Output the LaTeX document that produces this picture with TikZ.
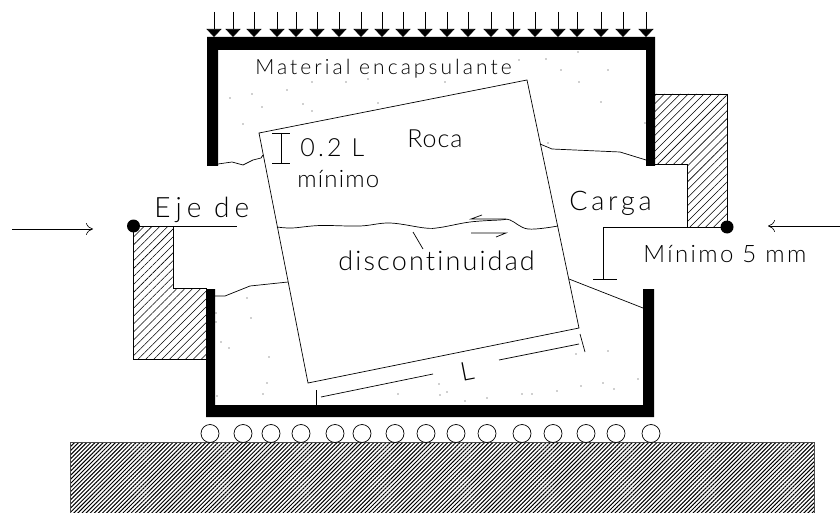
\documentclass[tikz,border=0pt]{standalone}
\usepackage{fontspec}
\setmainfont{Lato Light}[Ligatures=NoCommon]
\usetikzlibrary{arrows.meta,patterns.meta}

\begin{document}
\begin{tikzpicture}
[x=1pt,y=-1pt,line width=0.7pt,
rotulo/.style 2 args={anchor=base west,inner sep=0pt,font=\fontsize{#1}{#1}\selectfont\addfontfeature{LetterSpace=#2}},
rayado/.style={draw=black,pattern={Lines[angle=45,distance=5.6pt,line width=0.55pt]}},
rayadob/.style={draw=black!70,pattern={Lines[angle=45,distance=2.9pt,line width=1pt]}},
bullet/.style={circle,fill=black,inner sep=0pt,minimum size=13pt},
rodillo/.style={circle,draw=black,fill=white,inner sep=0pt,minimum size=18pt},
carga/.style={-{Triangle[width=15pt,length=8pt]},line width=0.6pt},
fuerza/.style={-{To[length=7pt,width=12pt]},line width=0.6pt},
grano/.style={circle,fill=black!80,inner sep=0pt,minimum size=1.2pt}]
\useasboundingbox (0,0) rectangle (840,513);

% base y rodillos
\fill[rayadob] (70,442.5) -- (814,442.5) -- (814,513) -- (70,513) -- cycle;
\foreach \x in {210,243,271,301,335,362,395,426,456,487,522,553,586,616,651}
  \node[rodillo] (r\x) at (\x,433.5) {};

% bloques de carga
\draw[rayado] (655,94) -- (727,94) -- (727,227) -- (687,227) -- (687,164) -- (655,164);
\draw[rayado] (173,226) -- (133.5,226) -- (133.5,359) -- (206,359) -- (206,288) -- (173,288) -- cycle;

% marco
\fill (207,166) -- (207,37) -- (655,37) -- (655,166) -- (646,166) -- (646,50) -- (218,50) -- (218,166) -- cycle;
\fill (206,289) -- (215,289) -- (215,405) -- (643,405) -- (643,289) -- (654,289) -- (654,417) -- (206,417) -- cycle;

% cargas de arriba
\foreach \x in {214,233,254,277,296,317,339,361,382,403,425,447,468,491,513,535,558,577,601,623,646}
  \draw[carga] (\x,12) -- (\x,37);

% roca
\coordinate (a) at (259,133);
\coordinate (b) at (527,80);
\coordinate (c) at (579,328);
\coordinate (d) at (308,383);
\draw (a) -- (b) -- (c) -- (d) -- cycle;

% grietas
\draw (218,164) -- (232,162) -- (243,165) -- (253,160) -- (261,158) -- (263,155);
\draw (540,144) -- (552,149) -- (620,152) -- (646,160);
\draw (215,296) -- (225,296) -- (250,286) -- (288,282);
\draw (569,279) -- (643,308);
\draw plot[smooth,tension=0.6] coordinates {(277,227) (292,228) (320,225.5) (360,226) (390,223) (425,228) (440,227.5) (470,222) (500,220) (510,220) (528,229) (558,226)};

% flechas de corte y guia
\draw (506,219) -- (471,219) -- (482,215);
\draw (471,233) -- (506,233) -- (496,237);
\draw (413,232) -- (423,249);

% cota 0.2 L
\draw (272,133) -- (290,133);
\draw (281,133) -- (281,163);
\draw (272,163) -- (290,163);

% cota L
\draw (321,397) -- (433,374);
\draw (499,360) -- (579,344);
\draw (316,390) -- (316,405);
\draw (580,334) -- (585,352);

% ejes
\node[bullet] (ejei) at (133.5,226) {};
\node[bullet] (ejed) at (727,227) {};
\coordinate (fini) at (237,226);
\coordinate (esq) at (603,227);
\coordinate (pie) at (603,279);
\draw (ejei) -- (fini);
\draw (ejed) -- (esq) -- (pie);
\draw (593,279) -- (617,279);

% fuerzas
\draw[fuerza] (12,229) -- (93,229);
\draw[fuerza] (840,226) -- (768,226);

% textos
\node[rotulo={21}{14.5}] (mat) at (255,75) {Material encapsulante};
\node[rotulo={25}{4}] (roca) at (407,148) {Roca};
\node[rotulo={25}{13}] (dos) at (300,157) {0.2 L};
\node[rotulo={24}{5}] (min) at (297,188) {mínimo};
\node[rotulo={28}{18}] (eje) at (154,218) {Eje de};
\node[rotulo={27}{14}] (carg) at (569,211) {Carga};
\node[rotulo={24}{10}] (cinco) at (643,262) {Mínimo 5 mm};
\node[rotulo={27}{8}] (disc) at (338,270) {discontinuidad};
\node[rotulo={26}{0},rotate=11] (ele) at (462,382) {L};

% granos
\foreach \x/\y in {312/82,346/82,368/79,287/90,252/94,230/98,262/107,303/104,312/111,378/103,243/124,
  445/82,519/60,546/59,578/52,561/70,608/70,579/82,601/102,645/123,548/143,
  247/298,216/313,216/322,251/318,221/342,229/348,269/357,267/383,263/394,217/396,
  439/384,398/394,440/395,447/392,465/401,487/398,522/394,532/394,557/391,581/386,603/383,614/389,638/379,608/351,576/354}
  \node[grano] at (\x,\y) {};
\end{tikzpicture}
\end{document}
